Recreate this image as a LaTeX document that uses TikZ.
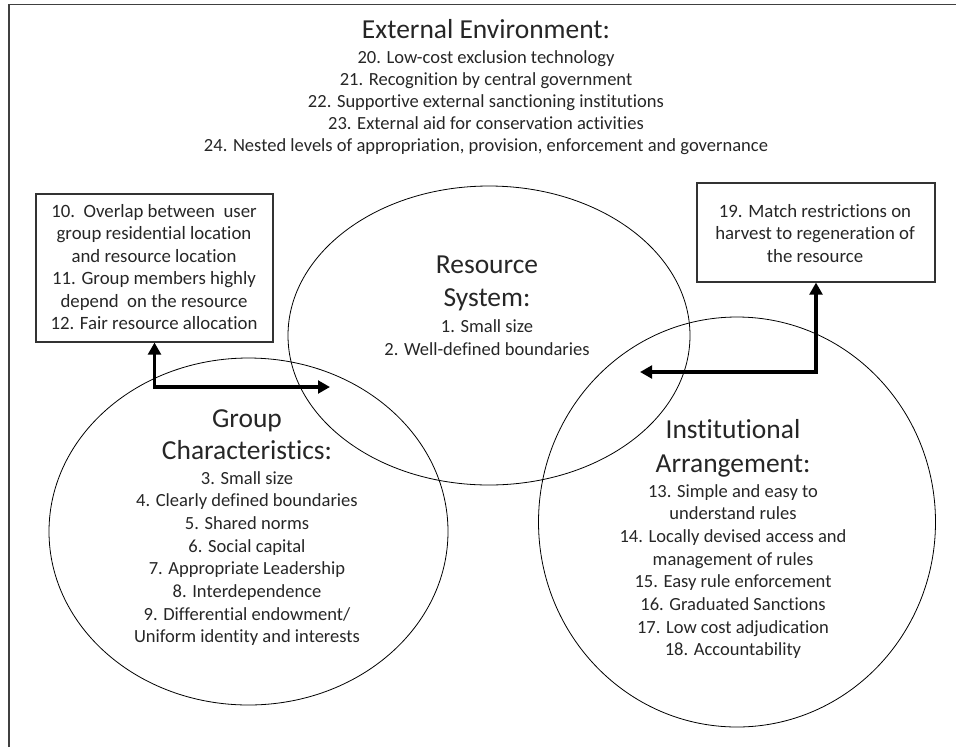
\documentclass[tikz,border=0pt]{standalone}
\usepackage{fontspec}
\setmainfont{Carlito}[Ligatures={NoCommon}]
\usetikzlibrary{shapes.geometric,arrows.meta}

\begin{document}
\begin{tikzpicture}[x=0.75pt, y=-0.75pt,
    heading/.style={anchor=base, inner sep=0pt, text=black!85, font=\fontsize{20.6}{24}\selectfont},
    entry/.style={anchor=base, inner sep=0pt, text=black!85, font=\fontsize{13.9}{16}\selectfont},
    boxentry/.style={anchor=base, inner sep=0pt, text=black!85, font=\fontsize{14.1}{17}\selectfont},
    sphere/.style={ellipse, draw, line width=0.6pt, inner sep=0pt},
    infobox/.style={rectangle, draw=black!80, line width=0.8pt, inner sep=0pt},
    link/.style={line width=2.6pt, {Triangle[length=9pt,width=9.5pt]}-{Triangle[length=9pt,width=9.5pt]}}]
    \useasboundingbox (0,0) rectangle (956,747);
    % page frame
    \draw[black!75, line width=1.2pt] (9,747) -- (9,4.5) -- (956,4.5);

    % external environment
    \node[heading] (ext) at (486,38) {External Environment:};
    \foreach \txt [count=\i] in {20. Low-cost exclusion technology,
        21. Recognition by central government,
        22. Supportive external sanctioning institutions,
        23. External aid for conservation activities,
        {24. Nested levels of appropriation, provision, enforcement and governance}}
        \node[entry] (ext\i) at (486,41+22*\i) {\txt};

    % the three spheres
    \node[sphere, minimum width=301.5pt, minimum height=224.25pt] (res) at (489,335.5) {};
    \node[sphere, minimum width=299.25pt, minimum height=260.25pt] (grp) at (248.5,531.5) {};
    \node[sphere, minimum width=297.75pt, minimum height=307.5pt] (inst) at (737,522) {};

    \node[heading] (res-t1) at (487,273) {Resource};
    \node[heading] (res-t2) at (487,306) {System:};
    \node[entry] (res1) at (487,332) {1. Small size};
    \node[entry] (res2) at (487,355) {2. Well-defined boundaries};

    \node[heading] (grp-t1) at (247,427) {Group};
    \node[heading] (grp-t2) at (247,459) {Characteristics:};
    \foreach \txt [count=\i] in {3. Small size, 4. Clearly defined boundaries,
        5. Shared norms, 6. Social capital, 7. Appropriate Leadership,
        8. Interdependence, 9. Differential endowment/, Uniform identity and interests}
        \node[entry] (grp\i) at (247,461.3+22.7*\i) {\txt};

    \node[heading] (inst-t1) at (733,438) {Institutional};
    \node[heading] (inst-t2) at (733,472) {Arrangement:};
    \foreach \txt [count=\i] in {13. Simple and easy to, understand rules,
        14. Locally devised access and, management of rules,
        15. Easy rule enforcement, 16. Graduated Sanctions,
        17. Low cost adjudication, 18. Accountability}
        \node[entry] (inst\i) at (733,474.3+22.7*\i) {\txt};

    % side boxes
    \node[infobox, minimum width=177.75pt, minimum height=111pt] (userbox) at (154.5,268) {};
    \foreach \txt [count=\i] in {10.\ \ Overlap between\ \ user, group residential location,
        and resource location, 11. Group members highly,
        depend\ \ on the resource, 12. Fair resource allocation}
        \node[boxentry] (user\i) at (154,194.5+22.5*\i) {\txt};

    \node[infobox, minimum width=178.5pt, minimum height=74.25pt] (harvestbox) at (816,232.5) {};
    \foreach \txt [count=\i] in {19. Match restrictions on,
        harvest to regeneration of, the resource}
        \node[boxentry] (harvest\i) at (815,194.5+22.5*\i) {\txt};

    % connectors
    \coordinate (grp-in) at (330,387);
    \coordinate (res-in) at (640,372);
    \draw[link] (userbox.south) |- (grp-in);
    \draw[link] (harvestbox.south) |- (res-in);
\end{tikzpicture}
\end{document}
